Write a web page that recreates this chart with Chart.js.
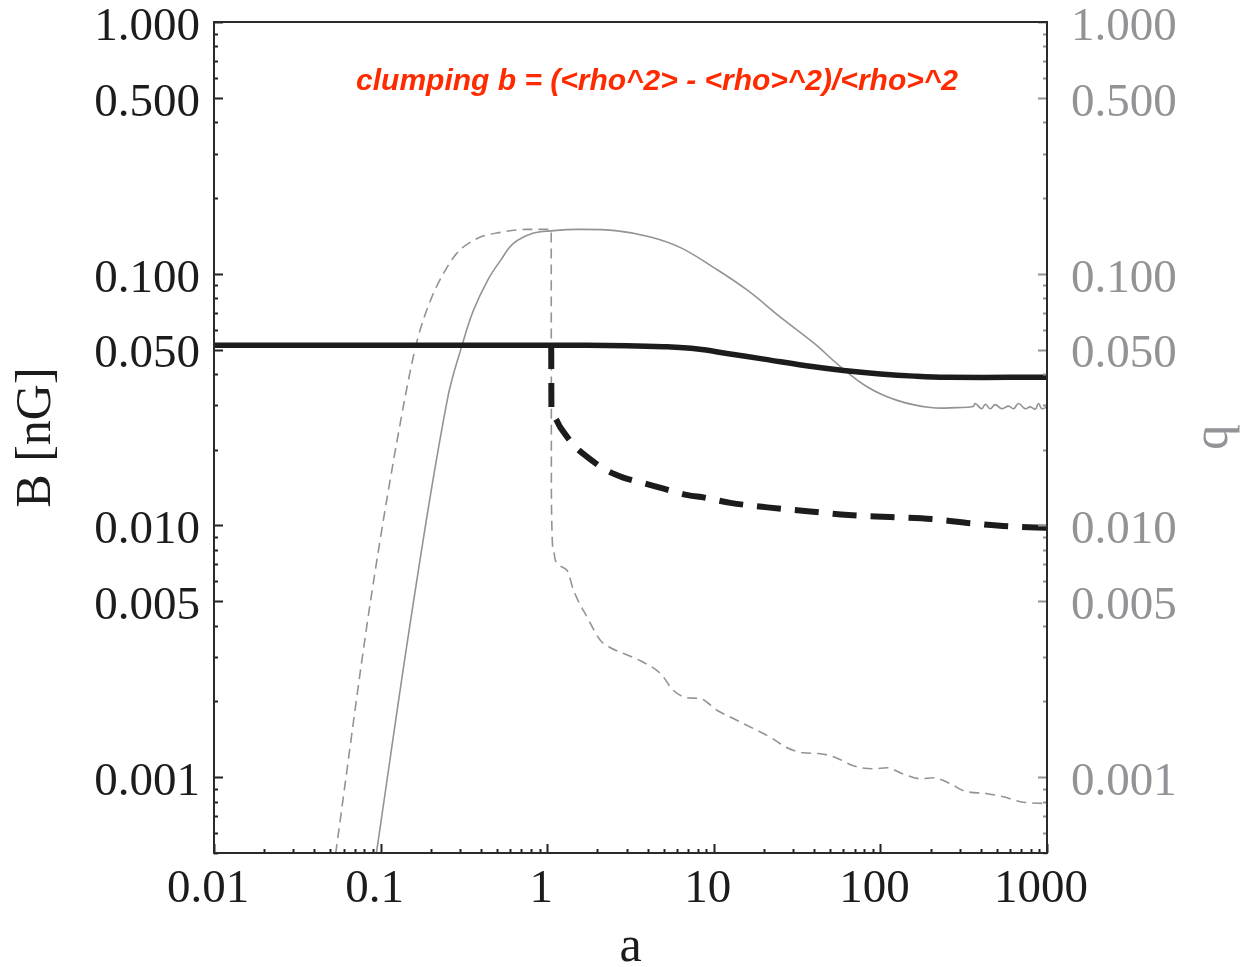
<!DOCTYPE html>
<html lang="en">
<head>
<meta charset="UTF-8">
<title>Clumping b and field B versus a</title>
<script src="https://cdn.jsdelivr.net/npm/chart.js@4.4.1/dist/chart.umd.min.js"></script>
<style>
  body { margin: 0; background: #fff; }
  #wrap { width: 1242px; height: 967px; }
</style>
</head>
<body>
<div id="wrap"><canvas id="chart"></canvas></div>
<script>
// axis ticks
const xTickValues = [0.01, 0.1, 1, 10, 100, 1000];
const xTickLabels = ['0.01', '0.1', '1', '10', '100', '1000'];
const yTickValues = [0.001, 0.005, 0.01, 0.05, 0.1, 0.5, 1];
const yTickLabels = ['0.001', '0.005', '0.010', '0.050', '0.100', '0.500', '1.000'];

// B [nG], thick solid black
const aField = [0.01, 1, 3, 5, 8, 12, 20, 35, 60, 100, 160, 250, 1000];
const fieldSolid = [0.052, 0.052, 0.0518, 0.0513, 0.0502, 0.0482, 0.0458, 0.0432, 0.0413, 0.0400, 0.0392, 0.0388, 0.0388];

// B [nG], thick dashed black
const aFieldDashed = [1.057, 1.06, 1.091, 1.2, 1.47, 1.76, 2.29, 2.86, 3.98, 5.0, 6.97, 8.8, 12.6, 21, 36.5, 64.3, 114, 203, 355, 619, 1000];
const fieldDashed = [0.0521, 0.0293, 0.0271, 0.0245, 0.0206, 0.0186, 0.0165, 0.0155, 0.0146, 0.0140, 0.0132, 0.0129, 0.0123, 0.0118, 0.0114, 0.0110, 0.0108, 0.0106, 0.0102, 0.0099, 0.0098];

// clumping b, thin solid grey
const aClumpSolid = [0.0942, 0.158, 0.251, 0.311, 0.361, 0.439, 0.525, 0.628, 0.828, 1.047, 1.52, 2.64, 4.17, 6.31, 9.95, 15.9, 25.1, 39.6, 57.5, 83.6, 126, 200, 290, 361,
  371, 406, 426, 456, 489, 536, 588, 630, 675, 740, 793, 850, 890, 931, 1000];
const clumpSolid = [0.000496, 0.00503, 0.0314, 0.053, 0.0716, 0.0942, 0.113, 0.132, 0.145, 0.148, 0.150, 0.148, 0.140, 0.127, 0.106, 0.0860, 0.0672, 0.0532, 0.0428, 0.0355, 0.0314, 0.0294, 0.0294, 0.0297,
  0.0305, 0.0291, 0.0303, 0.0291, 0.0302, 0.0291, 0.0298, 0.0291, 0.0305, 0.0291, 0.0296, 0.0290, 0.0305, 0.0291, 0.0296];

// clumping b, thin dashed grey
const aClumpDashed = [0.0537, 0.0871, 0.141, 0.166, 0.1995, 0.239, 0.288, 0.380, 0.525, 0.759, 1.057, 1.06, 1.091, 1.12, 1.318, 1.44, 1.74, 2.09, 2.40, 2.87, 3.63, 4.79, 5.73, 6.92, 8.32,
  10.5, 13.1, 17.3, 21.9, 27.5, 34.5, 43.7, 55.0, 68.9, 90.8, 110, 137, 174, 208, 263, 315, 439, 547, 692, 1000];
const clumpDashed = [0.000496, 0.00503, 0.0329, 0.0544, 0.0785, 0.1005, 0.121, 0.138, 0.146, 0.150, 0.150, 0.01257, 0.00796, 0.00726, 0.00662, 0.00552, 0.00431, 0.00349, 0.00327, 0.00310, 0.00290, 0.00258, 0.00221, 0.00207, 0.00205,
  0.00184, 0.00171, 0.00156, 0.00144, 0.00131, 0.00125, 0.00124, 0.00119, 0.00111, 0.00108, 0.00109, 0.00103, 0.000986, 0.000995, 0.000942, 0.000884, 0.000860, 0.000836, 0.000799, 0.000785];

const BLACK = '#1c1c1c';
const GREY = '#939397';
const serif = '"Liberation Serif", "Times New Roman", serif';

const zip = (xs, ys) => xs.map((x, i) => ({ x: x, y: ys[i] }));

// minor tick positions 1..9 x 10^e inside [lo, hi]
function logMinors(lo, hi) {
    const out = [];
    for (let e = -5; e <= 4; e++) {
        for (let m = 1; m <= 9; m++) {
            const v = Number((m * Math.pow(10, e)).toPrecision(3));
            if (v >= lo && v <= hi) out.push(v);
        }
    }
    return out;
}

// frame, inward ticks and the red note
const framePlugin = {
    id: 'frame',
    afterDraw(chart) {
        const { ctx, chartArea: ca, scales } = chart;
        const x = scales.x, y = scales.y;
        ctx.save();
        ctx.lineWidth = 2;

        // bottom ticks
        ctx.strokeStyle = '#222';
        logMinors(0.01, 1000).forEach(v => {
            const px = Math.round(x.getPixelForValue(v)) + 0.5;
            const len = xTickValues.includes(v) ? 9 : 4;
            ctx.beginPath(); ctx.moveTo(px, ca.bottom); ctx.lineTo(px, ca.bottom - len); ctx.stroke();
        });
        // left ticks
        logMinors(0.0005, 1).forEach(v => {
            const py = Math.round(y.getPixelForValue(v)) + 0.5;
            const len = yTickValues.includes(v) ? 9 : 4;
            ctx.beginPath(); ctx.moveTo(ca.left, py); ctx.lineTo(ca.left + len, py); ctx.stroke();
        });
        // right ticks (grey)
        ctx.strokeStyle = GREY;
        logMinors(0.0005, 1).forEach(v => {
            const py = Math.round(scales.y2.getPixelForValue(v)) + 0.5;
            const len = yTickValues.includes(v) ? 9 : 4;
            ctx.beginPath(); ctx.moveTo(ca.right, py); ctx.lineTo(ca.right - len, py); ctx.stroke();
        });

        // frame
        ctx.strokeStyle = '#2a2a2a';
        ctx.strokeRect(ca.left, ca.top, ca.right - ca.left, ca.bottom - ca.top);

        // annotation
        ctx.fillStyle = '#ff2a00';
        ctx.font = 'italic bold 30px "Liberation Sans", Arial, sans-serif';
        ctx.textAlign = 'center';
        ctx.textBaseline = 'alphabetic';
        ctx.fillText('clumping b = (<rho^2> - <rho>^2)/<rho>^2', 657, 90);
        ctx.restore();
    }
};

// labels sit a little below their tick; an empty first line with a small
// line height pushes the text down by half of it
const yScale = (pos, color, pad, titleText, titleOpts) => ({
    type: 'logarithmic',
    position: pos,
    min: 0.0005,
    max: 1,
    grid: { display: false, drawTicks: false },
    border: { display: false },
    afterBuildTicks: s => { s.ticks = yTickValues.map(v => ({ value: v })); },
    afterFit: s => {
        s.width = pos === 'left' ? 214 : 1242 - 1047;
        s.paddingTop = 0; s.paddingBottom = 0;
    },
    ticks: {
        autoSkip: false,
        padding: pad,
        color: color,
        font: { family: serif, size: 47, lineHeight: '11px' },
        callback: (v, i) => ['', yTickLabels[i]]
    },
    title: Object.assign({ display: true, text: titleText, color: color }, titleOpts)
});

new Chart(document.getElementById('chart'), {
    type: 'scatter',
    data: {
        datasets: [
            { label: 'B', data: zip(aField, fieldSolid), yAxisID: 'y', borderColor: BLACK, borderWidth: 5.5, tension: 0.4, cubicInterpolationMode: 'default' },
            { label: 'B, clumped', data: zip(aFieldDashed, fieldDashed), yAxisID: 'y', borderColor: BLACK, borderWidth: 6, borderDash: [24, 14] },
            { label: 'b', data: zip(aClumpSolid, clumpSolid), yAxisID: 'y2', borderColor: GREY, borderWidth: 1.6, tension: 0.4, cubicInterpolationMode: 'default' },
            { label: 'b, clumped', data: zip(aClumpDashed, clumpDashed), yAxisID: 'y2', borderColor: GREY, borderWidth: 1.6, borderDash: [10, 6] }
        ]
    },
    options: {
        responsive: true,
        maintainAspectRatio: false,
        animation: false,
        layout: { padding: { top: 22, left: 0, right: 0, bottom: 0 } },
        datasets: {
            scatter: { showLine: true, pointRadius: 0, cubicInterpolationMode: 'monotone' }
        },
        plugins: { legend: { display: false }, tooltip: { enabled: false } },
        scales: {
            x: {
                type: 'logarithmic',
                min: 0.01,
                max: 1000,
                grid: { display: false, drawTicks: false },
                border: { display: false },
                afterBuildTicks: s => { s.ticks = xTickValues.map(v => ({ value: v })); },
                afterFit: s => { s.height = 967 - 853; s.paddingLeft = 0; s.paddingRight = 0; },
                ticks: {
                    autoSkip: false,
                    maxRotation: 0,
                    padding: 8,
                    labelOffset: -6,
                    color: BLACK,
                    font: { family: serif, size: 47 },
                    callback: (v, i) => xTickLabels[i]
                },
                title: { display: true, text: 'a', color: BLACK, font: { family: serif, size: 50, lineHeight: 0.75 }, padding: 0 }
            },
            y: yScale('left', BLACK, 14, 'B [nG]', { font: { family: serif, size: 50, lineHeight: 1.2 }, padding: { top: 7, bottom: 0 } }),
            y2: yScale('right', GREY, 24, 'b', { font: { family: serif, size: 50, lineHeight: 1 }, padding: 0 })
        }
    },
    plugins: [framePlugin]
});
</script>
</body>
</html>
